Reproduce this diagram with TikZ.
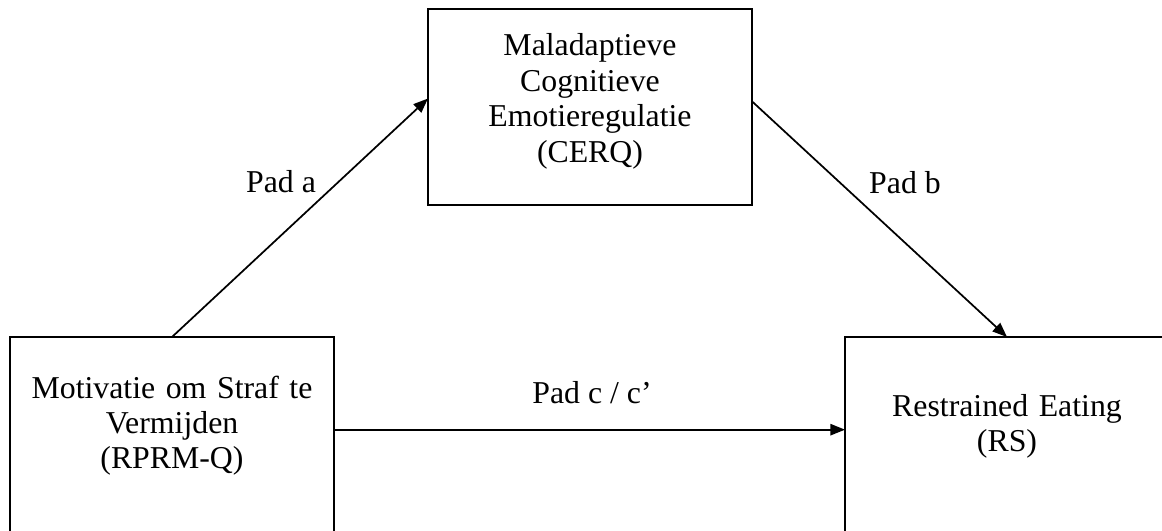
\documentclass[tikz,border=0pt]{standalone}
\usepackage{fontspec}
\setmainfont{Liberation Serif}
\usetikzlibrary{arrows.meta}

\begin{document}
\begin{tikzpicture}[x=0.75pt,y=-0.75pt,>={Triangle[length=11pt,width=8.5pt]},
  box/.style={rectangle,draw=black,line width=1.4pt,inner xsep=0pt,inner ysep=0pt,outer sep=0pt,text width=243pt,align=center,anchor=north,font=\fontsize{23.85}{26.6}\selectfont},
  lbl/.style={anchor=base,inner sep=0pt,font=\fontsize{23.85}{26.6}\selectfont},
  flow/.style={->,line width=1.3pt}]
\useasboundingbox (0,0) rectangle (1162,531);
\clip (0,0) rectangle (1162,531);
\node[box,text height=35.25pt,text depth=111.75pt] (CERQ) at (590,9) {Maladaptieve\\Cognitieve\\Emotieregulatie\\(CERQ)};
\node[box,text height=45.75pt,text depth=110.25pt] (RPRM) at (172,337) {Motivatie om Straf te\\Vermijden\\(RPRM-Q)};
\node[box,text height=59.25pt,text depth=96.75pt] (RS) at (1007,337) {Restrained Eating\\(RS)};
\draw[flow] (RPRM.north) -- (CERQ.177.5);
\draw[flow] (CERQ.2.5) -- (RS.north);
\draw[flow] (RPRM.4.6) -- (RPRM.4.6 -| RS.west);
\node[lbl] (padA) at (281,192) {Pad a};
\node[lbl] (padB) at (905,193) {Pad b};
\node[lbl] (padC) at (592,403) {Pad c / c’};
\end{tikzpicture}
\end{document}
